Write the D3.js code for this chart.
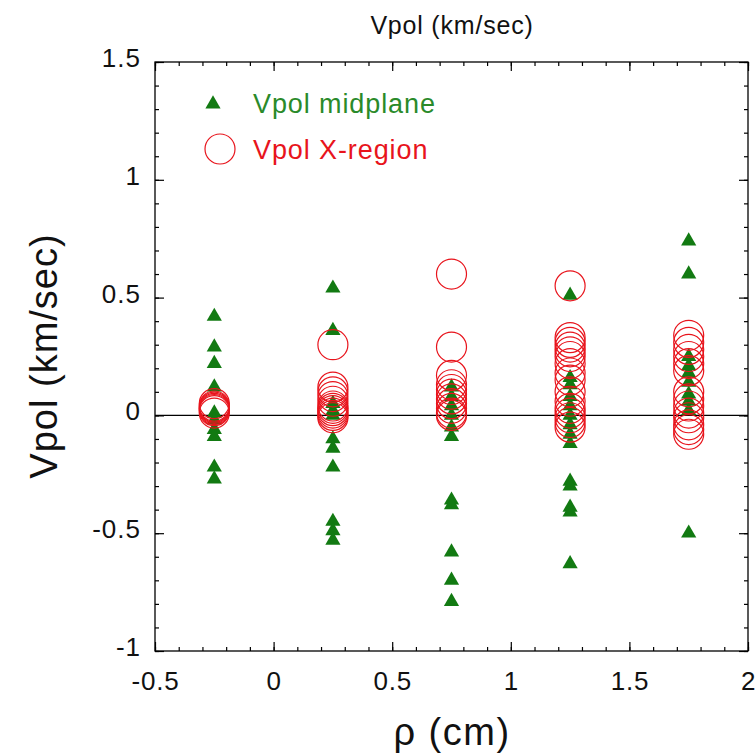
<!DOCTYPE html>
<html><head><meta charset="utf-8">
<script src="https://cdn.jsdelivr.net/npm/d3@7"></script>
<style>body{margin:0;background:#fff}svg{display:block}text{font-family:"Liberation Sans",Arial,Helvetica,sans-serif}</style>
</head><body><div id="chart"></div>
<script>
const positions = [-0.25, 0.25, 0.75, 1.25, 1.75];
const midplane = [
  [0.42, 0.29, 0.22, 0.12, 0.01, -0.02, -0.06, -0.09, -0.22, -0.27],
  [0.54, 0.36, 0.05, 0.02, 0.0, -0.10, -0.14, -0.22, -0.45, -0.49, -0.53],
  [0.12, 0.08, 0.04, 0.0, -0.05, -0.09, -0.36, -0.38, -0.58, -0.70, -0.79],
  [0.51, 0.16, 0.13, 0.08, 0.04, 0.0, -0.04, -0.08, -0.12, -0.28, -0.30, -0.39, -0.41, -0.63],
  [0.74, 0.60, 0.25, 0.21, 0.18, 0.14, 0.09, 0.06, 0.02, -0.50]
];
const xregion = [
  [0.05, 0.04, 0.035, 0.03, 0.025, 0.02, 0.01],
  [0.30, 0.12, 0.10, 0.08, 0.06, 0.04, 0.03, 0.02, 0.01, 0.0, -0.01],
  [0.60, 0.29, 0.17, 0.13, 0.11, 0.09, 0.07, 0.05, 0.03, 0.01, 0.0],
  [0.55, 0.33, 0.31, 0.29, 0.27, 0.25, 0.22, 0.18, 0.15, 0.10, 0.06, 0.03, 0.01, -0.01, -0.03, -0.05],
  [0.34, 0.31, 0.28, 0.25, 0.22, 0.19, 0.10, 0.07, 0.04, 0.01, -0.01, -0.04, -0.06, -0.08]
];
const xTicks = [-0.5, 0, 0.5, 1, 1.5, 2];
const yTicks = [-1, -0.5, 0, 0.5, 1, 1.5];
const seriesNames = ["Vpol midplane", "Vpol X-region"];
const titleText = "Vpol (km/sec)";
const xLabel = "ρ (cm)";
const yLabel = "Vpol (km/sec)";

const W = 756, H = 756;
const m = {left:155, right:8, top:62, bottom:105};
const green = "#127a12", red = "#e8141c";
const svg = d3.select("#chart").append("svg").attr("width", W).attr("height", H);
const x = d3.scaleLinear().domain([-0.5, 2]).range([m.left, W - m.right]);
const y = d3.scaleLinear().domain([-1, 1.5]).range([H - m.bottom, m.top]);
const fmt = d => String(d);

const xMinor = d3.range(-5, 21).map(i => i / 10);
const yMinor = d3.range(-10, 16).map(i => i / 10);

function addAxis(axisGen, tr) {
  const g = svg.append("g").attr("transform", tr).call(axisGen);
  g.select(".domain").remove();
  g.selectAll(".tick line").attr("stroke", "#000").attr("stroke-width", 1.2);
  return g;
}
addAxis(d3.axisBottom(x).tickValues(xMinor).tickSizeInner(-4).tickSizeOuter(0).tickFormat(""), `translate(0,${y(-1)})`);
addAxis(d3.axisBottom(x).tickValues(xTicks).tickSizeInner(-9).tickSizeOuter(0).tickPadding(21).tickFormat(fmt), `translate(0,${y(-1)})`)
  .selectAll("text").attr("font-size", 26).attr("fill", "#111").attr("letter-spacing", 0.8);
addAxis(d3.axisTop(x).tickValues(xMinor).tickSizeInner(-4).tickSizeOuter(0).tickFormat(""), `translate(0,${y(1.5)})`);
addAxis(d3.axisTop(x).tickValues(xTicks).tickSizeInner(-9).tickSizeOuter(0).tickFormat(""), `translate(0,${y(1.5)})`);
addAxis(d3.axisLeft(y).tickValues(yMinor).tickSizeInner(-4).tickSizeOuter(0).tickFormat(""), `translate(${x(-0.5)},0)`);
addAxis(d3.axisLeft(y).tickValues(yTicks).tickSizeInner(-9).tickSizeOuter(0).tickPadding(14).tickFormat(fmt), `translate(${x(-0.5)},0)`)
  .selectAll("text").attr("font-size", 26).attr("fill", "#111").attr("dy", "0.17em").attr("letter-spacing", 1);
addAxis(d3.axisRight(y).tickValues(yMinor).tickSizeInner(-4).tickSizeOuter(0).tickFormat(""), `translate(${x(2)},0)`);
addAxis(d3.axisRight(y).tickValues(yTicks).tickSizeInner(-9).tickSizeOuter(0).tickFormat(""), `translate(${x(2)},0)`);

svg.append("rect").attr("x", x(-0.5)).attr("y", y(1.5)).attr("width", x(2) - x(-0.5)).attr("height", y(-1) - y(1.5))
  .attr("fill", "none").attr("stroke", "#000").attr("stroke-width", 1.3);
svg.append("line").attr("x1", x(-0.5)).attr("x2", x(2)).attr("y1", y(0)).attr("y2", y(0)).attr("stroke", "#000").attr("stroke-width", 1.2);

const tri = d3.symbol().type(d3.symbolTriangle).size(100);
const midPts = midplane.flatMap((arr, i) => arr.map(v => ({x: positions[i], v})));
const xrPts = xregion.flatMap((arr, i) => arr.map(v => ({x: positions[i], v})));

svg.append("g").selectAll("path").data(midPts).join("path")
  .attr("d", tri).attr("transform", d => `translate(${x(d.x)},${y(d.v)})`).attr("fill", green);
svg.append("g").selectAll("circle").data(xrPts).join("circle")
  .attr("cx", d => x(d.x)).attr("cy", d => y(d.v)).attr("r", 15)
  .attr("fill", "none").attr("stroke", red).attr("stroke-width", 1.2);

svg.append("path").attr("d", tri).attr("transform", "translate(213,104)").attr("fill", green);
svg.append("text").attr("x", 253).attr("y", 113).attr("font-size", 27).attr("letter-spacing", 0.9).attr("fill", "#2a8a2a").text(seriesNames[0]);
svg.append("circle").attr("cx", 220).attr("cy", 149).attr("r", 15).attr("fill", "none").attr("stroke", red).attr("stroke-width", 1.2);
svg.append("text").attr("x", 253).attr("y", 159).attr("font-size", 27).attr("letter-spacing", 0.9).attr("fill", red).text(seriesNames[1]);

svg.append("text").attr("x", 452).attr("y", 34).attr("text-anchor", "middle").attr("font-size", 25).attr("letter-spacing", 0.8).attr("fill", "#111").text(titleText);
svg.append("text").attr("x", 452).attr("y", 745).attr("text-anchor", "middle").attr("font-size", 38).attr("letter-spacing", 1.5).attr("fill", "#111").text(xLabel);
svg.append("text").attr("transform", "translate(57,356) rotate(-90)").attr("text-anchor", "middle").attr("font-size", 38).attr("letter-spacing", 1).attr("fill", "#111").text(yLabel);
</script></body></html>
